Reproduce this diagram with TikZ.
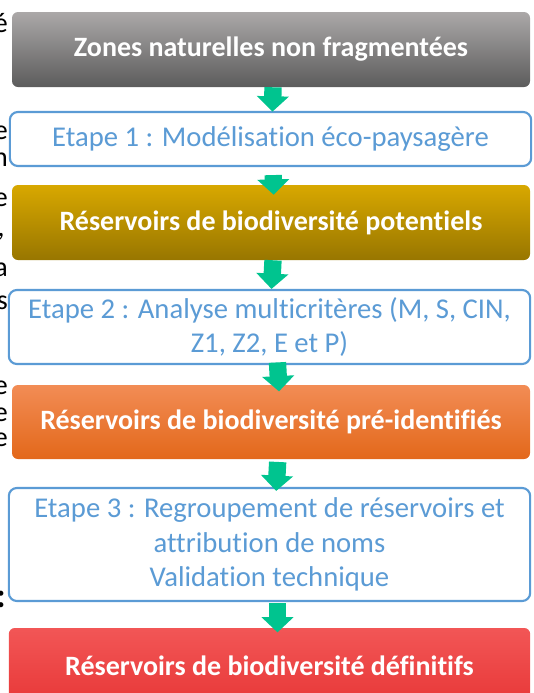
\documentclass[tikz,border=0pt]{standalone}
\usepackage{fontspec}
\setmainfont{Carlito}[Ligatures=NoCommon]
\usetikzlibrary{arrows.meta}
\begin{document}
\begin{tikzpicture}[x=0.75pt, y=-0.75pt,
		niveau/.style={rounded corners=4.5pt, text=white, inner sep=0, minimum width=388.5pt, minimum height=56.25pt, font=\bfseries\fontsize{21}{25}\selectfont},
		etape/.style={draw=sblue, line width=1.6pt, fill=white, rounded corners=6pt, text=sblue, align=center, inner sep=0, minimum width=391pt, font=\fontsize{21.5}{26}\selectfont},
		fleche/.style={draw=sgreen, line width=13pt, -{Triangle[width=23.5pt, length=11.5pt]}},
		bord/.style={anchor=base east, inner sep=0, font=\fontsize{21}{25}\selectfont}]
		\definecolor{sblue}{HTML}{5B9BD5}
		\definecolor{sgreen}{HTML}{00C48F}
		\clip (0,0) rectangle (533,693);
		\useasboundingbox (0,0) rectangle (533,693);
		% bouts de texte de la colonne voisine
		\node (f1) at (8,32) [bord] {é};
		\node (f2) at (8,139) [bord] {e};
		\node (f3) at (8,166) [bord] {n};
		\node (f4) at (8,206) [bord] {e};
		\node (f5) at (5,236) [bord] {,};
		\node (f6) at (8,276) [bord] {a};
		\node (f7) at (8,309) [bord] {s};
		\node (f8) at (8,394) [bord] {e};
		\node (f9) at (8,421) [bord] {e};
		\node (f10) at (8,446) [bord] {e};
		\node (f11) at (6,607) [bord, font=\bfseries\fontsize{26}{30}\selectfont] {:};
		% etapes
		\node (zones) at (271,49.5) [niveau, top color={rgb,255:red,171;green,168;blue,168}, middle color={rgb,255:red,160;green,157;blue,157}, bottom color={rgb,255:red,92;green,92;blue,92}] {Zones naturelles non fragmentées};
		\node (etape1) at (270.5,139) [etape, minimum height=40.5pt] {Etape 1 : Modélisation éco-paysagère};
		\node (potentiels) at (271,222.5) [niveau, top color={rgb,255:red,216;green,168;blue,0}, middle color={rgb,255:red,204;green,159;blue,0}, bottom color={rgb,255:red,152;green,118;blue,0}] {Réservoirs de biodiversité potentiels};
		\node (etape2) at (269.5,327) [etape, minimum height=55.5pt] {Etape 2 : Analyse multicritères (M, S, CIN,\\Z1, Z2, E et P)};
		\node (preid) at (271,422) [niveau, minimum height=55.5pt, top color={rgb,255:red,242;green,140;blue,85}, middle color={rgb,255:red,240;green,122;blue,48}, bottom color={rgb,255:red,227;green,104;blue,26}] {Réservoirs de biodiversité pré-identifiés};
		\node (etape3) at (269.5,544.5) [etape, minimum height=84.75pt] {Etape 3 : Regroupement de réservoirs et\\attribution de noms\\Validation technique};
		\node (definitifs) at (269.5,666) [niveau, minimum width=391pt, minimum height=57pt, top color={rgb,255:red,242;green,86;blue,86}, middle color={rgb,255:red,240;green,78;blue,78}, bottom color={rgb,255:red,232;green,56;blue,56}] {Réservoirs de biodiversité définitifs};
		% fleches
		\draw[fleche] ([xshift=1.5pt]zones.south) -- ([xshift=1.5pt, yshift=-0.5pt]etape1.north);
		\draw[fleche] ([xshift=2pt, yshift=-6pt]etape1.south) -- ([xshift=2pt, yshift=-7.5pt]potentiels.north);
		\draw[fleche] ([xshift=1.5pt]potentiels.south) -- ([xshift=1.5pt]etape2.north);
		\draw[fleche] ([xshift=6pt, yshift=2pt]etape2.south) -- ([xshift=6pt, yshift=-5pt]preid.north);
		\draw[fleche] ([xshift=5pt, yshift=-2pt]preid.south) -- ([xshift=5pt, yshift=-3pt]etape3.north);
		\draw[fleche] ([xshift=6pt, yshift=-1pt]etape3.south) -- ([xshift=6pt, yshift=-3.5pt]definitifs.north);
	\end{tikzpicture}
\end{document}
